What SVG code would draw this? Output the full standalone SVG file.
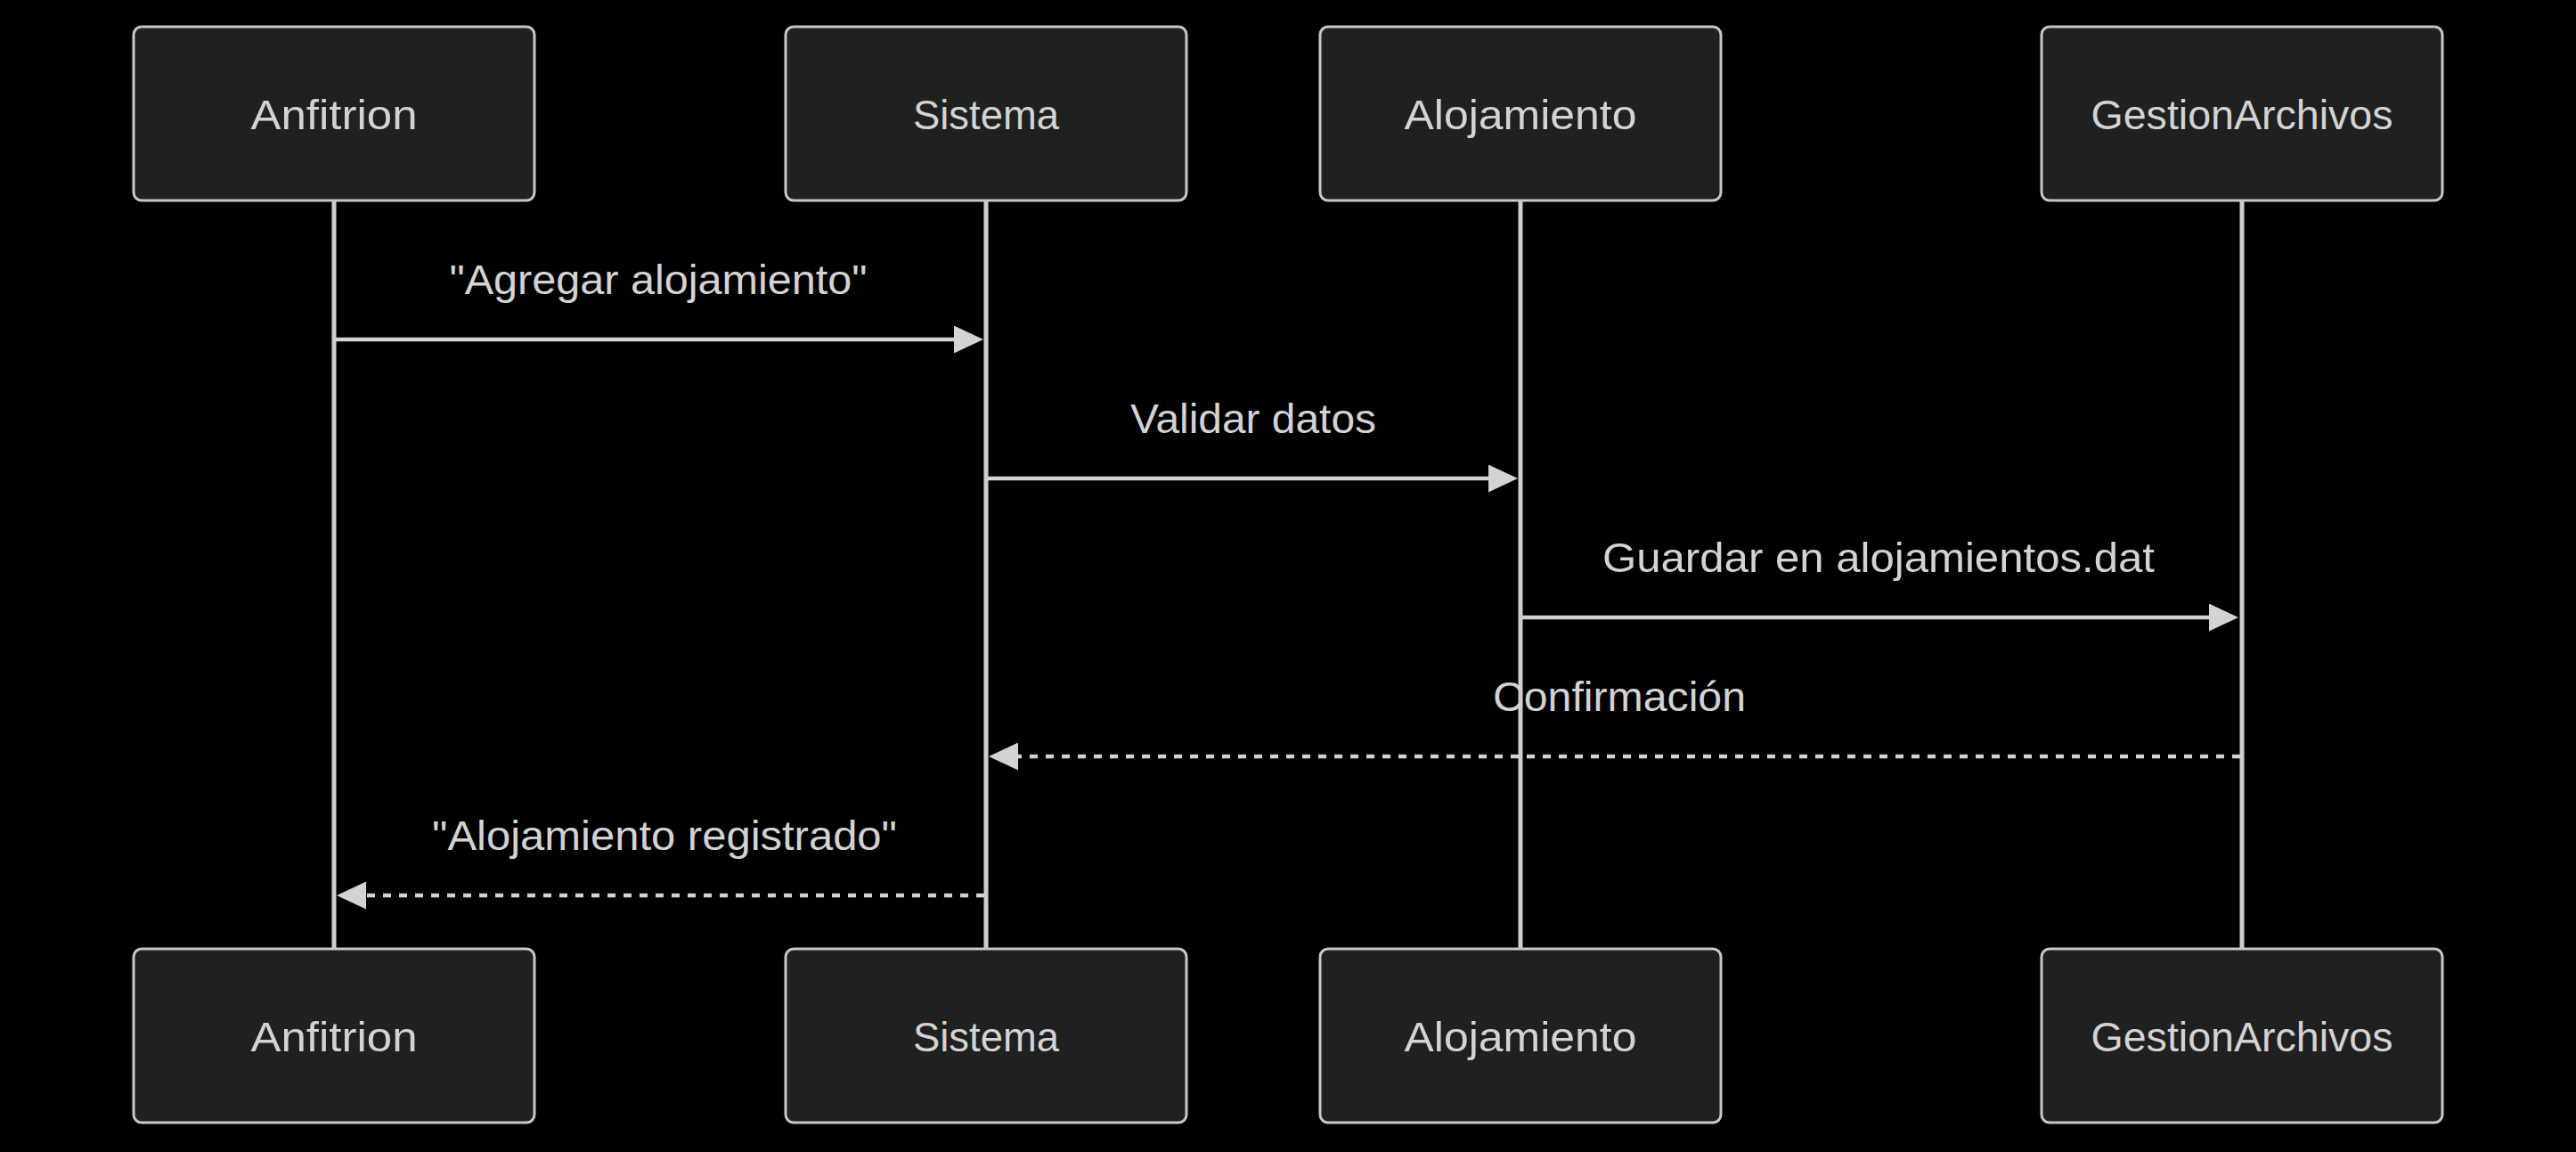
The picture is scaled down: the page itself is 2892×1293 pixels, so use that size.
<svg xmlns="http://www.w3.org/2000/svg" width="2892" height="1293" viewBox="0 0 2892 1293">
  <style>
    .actor rect { fill: #1f2020; stroke: #c8c8c8; stroke-width: 3; }
    .actor text { fill: #d3d3d3; font-family: "Liberation Sans", Arial, sans-serif; font-size: 47px; text-anchor: middle; }
    .lifeline { stroke: #cfcfcf; stroke-width: 5; }
    .msg { stroke: #d3d3d3; stroke-width: 4.5; fill: none; }
    .dashed { stroke-dasharray: 9 9; }
    .label { fill: #d3d3d3; font-family: "Liberation Sans", Arial, sans-serif; font-size: 47px; text-anchor: middle; }
  </style>
  <defs>
    <marker id="arrow" markerUnits="userSpaceOnUse" markerWidth="33" markerHeight="31" refX="23" refY="15.5" orient="auto">
      <path d="M0,0 L33,15.5 L0,31 z" fill="#d3d3d3"/>
    </marker>
  </defs>
  <rect width="2892" height="1293" fill="#000"/>

  <g id="lifelines">
    <line class="lifeline" x1="375" y1="225" x2="375" y2="1065"/>
    <line class="lifeline" x1="1107" y1="225" x2="1107" y2="1065"/>
    <line class="lifeline" x1="1707" y1="225" x2="1707" y2="1065"/>
    <line class="lifeline" x1="2517" y1="225" x2="2517" y2="1065"/>
  </g>

  <g id="actor-anfitrion-top" class="actor">
    <rect x="150" y="30" width="450" height="195" rx="9"/>
    <text x="375" y="145" textLength="187" lengthAdjust="spacingAndGlyphs">Anfitrion</text>
  </g>
  <g id="actor-sistema-top" class="actor">
    <rect x="882" y="30" width="450" height="195" rx="9"/>
    <text x="1107" y="145" textLength="164" lengthAdjust="spacingAndGlyphs">Sistema</text>
  </g>
  <g id="actor-alojamiento-top" class="actor">
    <rect x="1482" y="30" width="450" height="195" rx="9"/>
    <text x="1707" y="145" textLength="261" lengthAdjust="spacingAndGlyphs">Alojamiento</text>
  </g>
  <g id="actor-gestion-top" class="actor">
    <rect x="2292" y="30" width="450" height="195" rx="9"/>
    <text x="2517" y="145" textLength="339" lengthAdjust="spacingAndGlyphs">GestionArchivos</text>
  </g>

  <g id="actor-anfitrion-bottom" class="actor">
    <rect x="150" y="1065" width="450" height="195" rx="9"/>
    <text x="375" y="1180" textLength="187" lengthAdjust="spacingAndGlyphs">Anfitrion</text>
  </g>
  <g id="actor-sistema-bottom" class="actor">
    <rect x="882" y="1065" width="450" height="195" rx="9"/>
    <text x="1107" y="1180" textLength="164" lengthAdjust="spacingAndGlyphs">Sistema</text>
  </g>
  <g id="actor-alojamiento-bottom" class="actor">
    <rect x="1482" y="1065" width="450" height="195" rx="9"/>
    <text x="1707" y="1180" textLength="261" lengthAdjust="spacingAndGlyphs">Alojamiento</text>
  </g>
  <g id="actor-gestion-bottom" class="actor">
    <rect x="2292" y="1065" width="450" height="195" rx="9"/>
    <text x="2517" y="1180" textLength="339" lengthAdjust="spacingAndGlyphs">GestionArchivos</text>
  </g>

  <g id="connectors">
    <line class="msg" x1="377" y1="381" x2="1094" y2="381" marker-end="url(#arrow)"/>
    <text class="label" x="739" y="330" textLength="469" lengthAdjust="spacingAndGlyphs">"Agregar alojamiento"</text>

    <line class="msg" x1="1109" y1="537" x2="1694" y2="537" marker-end="url(#arrow)"/>
    <text class="label" x="1407" y="486" textLength="276" lengthAdjust="spacingAndGlyphs">Validar datos</text>

    <line class="msg" x1="1709" y1="693" x2="2503" y2="693" marker-end="url(#arrow)"/>
    <text class="label" x="2109" y="642" textLength="620" lengthAdjust="spacingAndGlyphs">Guardar en alojamientos.dat</text>

    <line class="msg dashed" x1="2515" y1="849" x2="1120" y2="849" marker-end="url(#arrow)"/>
    <text class="label" x="1818" y="798" textLength="284" lengthAdjust="spacingAndGlyphs">Confirmación</text>

    <line class="msg dashed" x1="1105" y1="1005" x2="388" y2="1005" marker-end="url(#arrow)"/>
    <text class="label" x="746" y="954" textLength="522" lengthAdjust="spacingAndGlyphs">"Alojamiento registrado"</text>
  </g>
</svg>
